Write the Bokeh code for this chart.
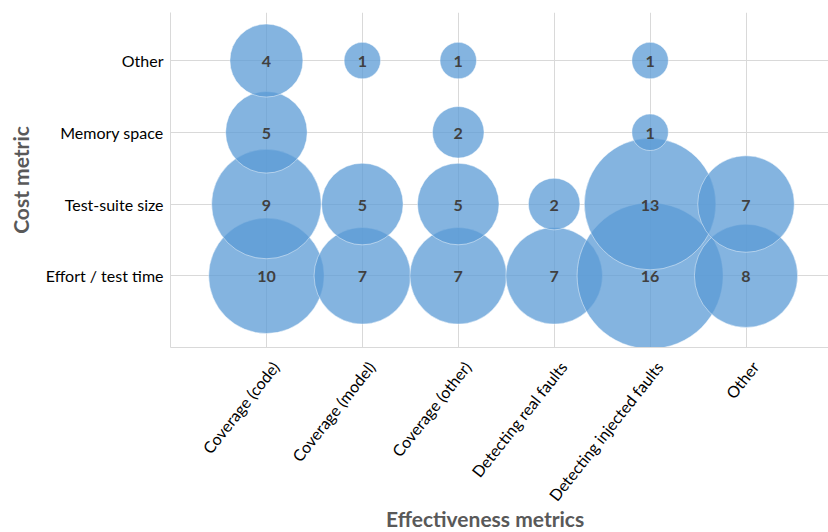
import math
from bokeh.plotting import figure
from bokeh.layouts import column
from bokeh.models import FixedTicker, ColumnDataSource, Range1d
from bokeh.embed import file_html
from bokeh.resources import INLINE
from bokeh.core.properties import value

effectiveness = ["Coverage (code)", "Coverage (model)", "Coverage (other)",
                 "Detecting real faults", "Detecting injected faults", "Other"]
cost = ["Effort / test time", "Test-suite size", "Memory space", "Other"]

effort_test_time = [10, 7, 7, 7, 16, 8]
test_suite_size = [9, 5, 5, 2, 13, 7]
memory_space = [5, None, 2, None, 1, None]
other_cost = [4, 1, 1, None, 1, None]

x_title = "Effectiveness metrics"
y_title = "Cost metric"

series = [effort_test_time, test_suite_size, memory_space, other_cost]

xs, ys, sizes, labels = [], [], [], []
for yi, row in enumerate(series):
    for xi, v in enumerate(row):
        if v is None:
            continue
        xs.append(xi + 1)
        ys.append(yi + 1)
        sizes.append(36.5 * math.sqrt(v))
        labels.append(str(v))

src = ColumnDataSource(dict(x=xs, y=ys, size=sizes, label=labels))

FONT = "Lato"
W = 828
TOP_H = 350
BOTTOM_H = 532 - TOP_H
xr = Range1d(0, 6.86)

# ---------------- main chart ----------------
p = figure(width=W, height=TOP_H, x_range=xr, y_range=Range1d(0, 4.67),
           toolbar_location=None, output_backend="svg",
           min_border_left=170, min_border_right=0, min_border_top=12, min_border_bottom=3)
p.outline_line_color = None

p.scatter("x", "y", size="size", source=src, fill_color="#5B9BD5", fill_alpha=0.75,
          line_color="white", line_alpha=0.45, line_width=1)
p.text("x", "y", text="label", source=src, text_align="center", text_baseline="middle",
       text_font=value(FONT), text_font_style="bold", text_font_size="16px",
       text_color="#404040", y_offset=1)

xt = list(range(1, len(effectiveness) + 1))
yt = list(range(1, len(cost) + 1))

p.xaxis.ticker = FixedTicker(ticks=[])
p.yaxis.ticker = FixedTicker(ticks=yt)
p.yaxis.major_label_overrides = {i + 1: n for i, n in enumerate(cost)}
p.xgrid.ticker = FixedTicker(ticks=xt)
p.ygrid.ticker = FixedTicker(ticks=yt)
p.grid.grid_line_color = "#d9d9d9"
p.grid.grid_line_width = 1

for ax in (p.xaxis, p.yaxis):
    ax.axis_line_color = "#d9d9d9"
    ax.axis_line_width = 1
    ax.major_tick_line_color = None
    ax.minor_tick_line_color = None
    ax.major_tick_out = 0
    ax.major_tick_in = 0
    ax.major_label_text_font = FONT
    ax.major_label_text_font_size = "16px"
    ax.major_label_text_color = "#000000"

p.xaxis.major_label_standoff = 0
p.yaxis.major_label_standoff = 7

p.yaxis.axis_label = y_title
p.yaxis.axis_label_text_font = FONT
p.yaxis.axis_label_text_font_style = "bold"
p.yaxis.axis_label_text_font_size = "21px"
p.yaxis.axis_label_text_color = "#595959"
p.yaxis.axis_label_standoff = 10

# ---------------- strip below: x category labels and x title ----------------
b = figure(width=W, height=BOTTOM_H, x_range=xr, y_range=Range1d(-185, -3),
           toolbar_location=None, output_backend="svg",
           x_axis_location=None, y_axis_location=None,
           min_border_left=170, min_border_right=0, min_border_top=0, min_border_bottom=0)
b.outline_line_color = None
b.grid.visible = False

cat_src = ColumnDataSource(dict(x=xt, y=[-16] * len(xt), label=effectiveness))
b.text("x", "y", text="label", source=cat_src, angle=0.9,
       text_align="right", text_baseline="middle", x_offset=9,
       text_font=value(FONT), text_font_size="16px", text_color="#000000")

title_src = ColumnDataSource(dict(x=[3.28], y=[-171], label=[x_title]))
b.text("x", "y", text="label", source=title_src, text_align="center", text_baseline="middle",
       text_font=value(FONT), text_font_style="bold", text_font_size="21px",
       text_color="#595959")

layout = column(p, b, spacing=0)
open("out.html", "w").write(file_html(layout, INLINE))
